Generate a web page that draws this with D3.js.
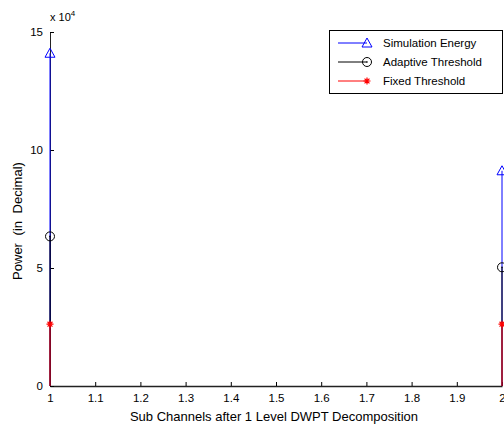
<!DOCTYPE html>
<html>
<head>
<meta charset="utf-8">
<script src="https://cdn.jsdelivr.net/npm/d3@7"></script>
<style>
  body { margin: 0; background: #fff; }
  text { font-family: "Liberation Sans", Arial, sans-serif; }
</style>
</head>
<body>
<script>
// data, y values in units of 10^4
const channels = [1, 2];
const simEnergy = [14.1, 9.12];
const adaptive = [6.34, 5.03];
const fixed = [2.62, 2.62];
const xTicks = [1, 1.1, 1.2, 1.3, 1.4, 1.5, 1.6, 1.7, 1.8, 1.9, 2];
const yTicks = [0, 5, 10, 15];
const seriesNames = ['Simulation Energy', 'Adaptive Threshold', 'Fixed Threshold'];

const width = 504, height = 425;
const margin = { left: 50, right: 2, top: 32, bottom: 39 };

const svg = d3.select('body').append('svg')
  .attr('width', width)
  .attr('height', height);

const x = d3.scaleLinear().domain([1, 2]).range([margin.left, width - margin.right]);
const y = d3.scaleLinear().domain([0, 15]).range([height - margin.bottom, margin.top]);

// axes
const xAxis = svg.append('g')
  .attr('transform', 'translate(0,' + y(0) + ')')
  .call(d3.axisBottom(x).tickValues(xTicks).tickSizeInner(-4).tickSizeOuter(0).tickPadding(8)
    .tickFormat(d => d3.format('')(+d.toFixed(1))));
xAxis.select('.domain').attr('stroke', '#222').attr('stroke-width', 1.5);
xAxis.selectAll('text').attr('font-size', 11.5).attr('fill', '#000');

const yAxis = svg.append('g')
  .attr('transform', 'translate(' + x(1) + ',0)')
  .call(d3.axisLeft(y).tickValues(yTicks).tickSizeInner(-4).tickSizeOuter(0).tickPadding(7));
yAxis.select('.domain').attr('stroke', '#222').attr('stroke-width', 1);
yAxis.selectAll('text').attr('font-size', 11.5).attr('fill', '#000');

// exponent
const expo = svg.append('text')
  .attr('x', x(1))
  .attr('y', y(15) - 11)
  .attr('font-size', 11);
expo.append('tspan').text('x 10');
expo.append('tspan').attr('dy', -5).attr('font-size', 8).text('4');

// labels
svg.append('text')
  .attr('x', 274)
  .attr('y', 421)
  .attr('text-anchor', 'middle')
  .attr('font-size', 13)
  .text('Sub Channels after 1 Level DWPT Decomposition');

svg.append('text')
  .attr('transform', 'translate(22,221) rotate(-90)')
  .attr('text-anchor', 'middle')
  .attr('font-size', 13)
  .attr('word-spacing', 4)
  .text('Power (in Decimal)');

// stems
const series = [
  { values: simEnergy, color: '#0000ff', marker: 'triangle' },
  { values: adaptive, color: '#000000', marker: 'circle' },
  { values: fixed, color: '#ff0000', marker: 'star' }
];

function drawMarker(g, type, cx, cy, color) {
  if (type === 'triangle') {
    g.append('path')
      .attr('d', 'M' + cx + ',' + (cy - 5) + 'L' + (cx + 5) + ',' + (cy + 4) + 'L' + (cx - 5) + ',' + (cy + 4) + 'Z')
      .attr('fill', 'none').attr('stroke', color).attr('stroke-width', 1);
  } else if (type === 'circle') {
    g.append('circle').attr('cx', cx).attr('cy', cy).attr('r', 4.5)
      .attr('fill', 'none').attr('stroke', color).attr('stroke-width', 1);
    g.append('circle').attr('cx', cx).attr('cy', cy).attr('r', 0.8).attr('fill', color);
  } else {
    const s = 3.5;
    g.append('path')
      .attr('d', 'M' + (cx - s) + ',' + cy + 'L' + (cx + s) + ',' + cy +
        'M' + cx + ',' + (cy - s) + 'L' + cx + ',' + (cy + s) +
        'M' + (cx - s * 0.7) + ',' + (cy - s * 0.7) + 'L' + (cx + s * 0.7) + ',' + (cy + s * 0.7) +
        'M' + (cx - s * 0.7) + ',' + (cy + s * 0.7) + 'L' + (cx + s * 0.7) + ',' + (cy - s * 0.7))
      .attr('stroke', color).attr('stroke-width', 1.2);
  }
}

const stems = svg.append('g');
series.forEach(s => {
  channels.forEach((c, i) => {
    stems.append('line')
      .attr('x1', x(c)).attr('x2', x(c))
      .attr('y1', y(0)).attr('y2', y(s.values[i]))
      .attr('stroke', s.color).attr('stroke-width', 1);
    drawMarker(stems, s.marker, x(c), y(s.values[i]), s.color);
  });
});

// legend
const legend = svg.append('g');
legend.append('rect')
  .attr('x', 329.5).attr('y', 30.5).attr('width', 173).attr('height', 63)
  .attr('fill', '#fff').attr('stroke', '#000').attr('stroke-width', 1);
series.forEach((s, i) => {
  const ly = 43 + i * 19;
  legend.append('line')
    .attr('x1', 338).attr('x2', 367).attr('y1', ly).attr('y2', ly)
    .attr('stroke', s.color).attr('stroke-width', 1);
  drawMarker(legend, s.marker, 367, ly, s.color);
  legend.append('text')
    .attr('x', 383).attr('y', ly + 4)
    .attr('font-size', 11.5)
    .text(seriesNames[i]);
});
</script>
</body>
</html>
